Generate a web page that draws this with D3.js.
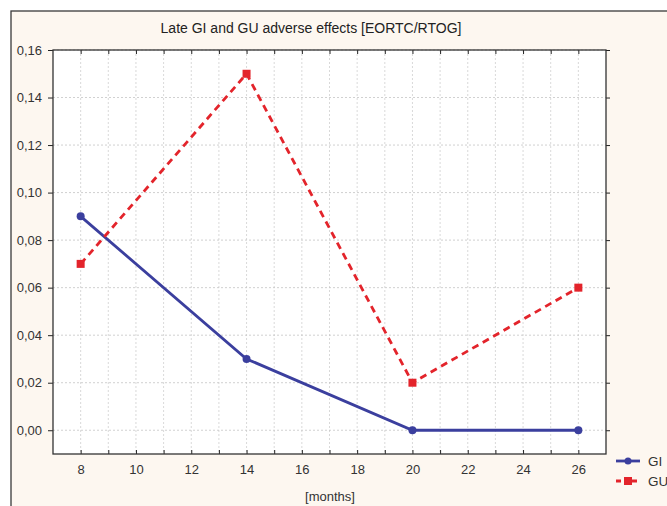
<!DOCTYPE html>
<html><head><meta charset="utf-8">
<script src="https://cdn.jsdelivr.net/npm/d3@7"></script>
<style>body{margin:0;background:#fff;}svg{display:block;font-family:"Liberation Sans",Arial,sans-serif;}</style>
</head><body><svg id="c" width="667" height="506"></svg>
<script>
const months = [8, 14, 20, 26];
const giValues = [0.09, 0.03, 0.00, 0.00];
const guValues = [0.07, 0.15, 0.02, 0.06];
const seriesNames = ["GI", "GU"];
const xTicks = [8, 10, 12, 14, 16, 18, 20, 22, 24, 26];
const yTicks = [0, 0.02, 0.04, 0.06, 0.08, 0.10, 0.12, 0.14, 0.16];
const title = "Late GI and GU adverse effects [EORTC/RTOG]";
const xTitle = "[months]";

const svg = d3.select("#c");
svg.append("rect").attr("x",0).attr("y",0).attr("width",667).attr("height",506).attr("fill","#fff");
svg.append("rect").attr("x",11).attr("y",11).attr("width",700).attr("height",520)
  .attr("fill","#fdf7f0").attr("stroke","#3a3a3a").attr("stroke-width",1.3);

const L=53,R=606,T=50,B=454;
const x = d3.scaleLinear().domain([7,27]).range([L,R]);
const y = d3.scaleLinear().domain([-0.01,0.16]).range([B,T]);

svg.append("rect").attr("x",L).attr("y",T).attr("width",R-L).attr("height",B-T).attr("fill","#fff");

const minorX = d3.range(8,27,1);
const g = svg.append("g");
g.selectAll(".vg").data(minorX).join("line")
  .attr("x1",d=>x(d)).attr("x2",d=>x(d)).attr("y1",T).attr("y2",B)
  .attr("stroke","#cfcfcf").attr("stroke-width",0.8).attr("stroke-dasharray","2,2");
g.selectAll(".hg").data(yTicks).join("line")
  .attr("x1",L).attr("x2",R).attr("y1",d=>y(d)).attr("y2",d=>y(d))
  .attr("stroke","#c4c4c4").attr("stroke-width",0.8).attr("stroke-dasharray","2,2");

// axes
const fmt = d => d3.format(".2f")(d).replace(".", ",");
const yAxis = d3.axisLeft(y).tickValues(yTicks).tickFormat(fmt).tickSize(5).tickPadding(6);
const ya = svg.append("g").attr("transform",`translate(${L},0)`).call(yAxis);
const yRight = d3.axisRight(y).tickValues(yTicks).tickFormat("").tickSize(4);
const yr = svg.append("g").attr("transform",`translate(${R},0)`).call(yRight);
const xAxis = d3.axisBottom(x).tickValues(xTicks).tickFormat(d3.format("d")).tickSize(0).tickPadding(11);
const xa = svg.append("g").attr("transform",`translate(0,${B})`).call(xAxis);
const xBottomTicks = d3.axisTop(x).tickValues(minorX).tickFormat("").tickSize(4);
const xb = svg.append("g").attr("transform",`translate(0,${B})`).call(xBottomTicks);
const xTopTicks = d3.axisBottom(x).tickValues(minorX).tickFormat("").tickSize(4);
const xt = svg.append("g").attr("transform",`translate(0,${T})`).call(xTopTicks);
[ya,yr,xa,xb,xt].forEach(a=>{
  a.select(".domain").remove();
  a.selectAll("line").attr("stroke","#222").attr("stroke-width",1);
  a.selectAll("text").attr("fill","#333").attr("font-size",13).attr("font-family",'"Liberation Sans",Arial,sans-serif');
});
svg.append("rect").attr("x",L).attr("y",T).attr("width",R-L).attr("height",B-T)
  .attr("fill","none").attr("stroke","#333").attr("stroke-width",1.3);

// title
svg.append("text").attr("x",311).attr("y",33).attr("text-anchor","middle")
  .attr("font-size",14).attr("fill","#222").text(title);
svg.append("text").attr("x",330).attr("y",501).attr("text-anchor","middle")
  .attr("font-size",13).attr("fill","#333").text(xTitle);

const colors = ["#3b3f9e","#e3242b"];
const data = [giValues, guValues];
const line = d3.line().x((d,i)=>x(months[i])).y(d=>y(d));
data.forEach((vals,k)=>{
  svg.append("path").datum(vals).attr("d",line).attr("fill","none")
    .attr("stroke",colors[k]).attr("stroke-width",2.8)
    .attr("stroke-dasharray",k===1?"7,5":null);
  if(k===0){
    svg.selectAll(".m0").data(vals).join("circle")
      .attr("cx",(d,i)=>x(months[i])).attr("cy",d=>y(d)).attr("r",4).attr("fill",colors[k]);
  } else {
    svg.selectAll(".m1").data(vals).join("rect")
      .attr("x",(d,i)=>x(months[i])-4).attr("y",d=>y(d)-4).attr("width",8).attr("height",8).attr("fill",colors[k]);
  }
});

// legend
seriesNames.forEach((n,k)=>{
  const ly = 461 + k*20;
  svg.append("line").attr("x1",616).attr("x2",640).attr("y1",ly).attr("y2",ly)
    .attr("stroke",colors[k]).attr("stroke-width",2.8).attr("stroke-dasharray",k===1?"5,3":null);
  if(k===0) svg.append("circle").attr("cx",628).attr("cy",ly).attr("r",3.5).attr("fill",colors[k]);
  else svg.append("rect").attr("x",624).attr("y",ly-4).attr("width",8).attr("height",8).attr("fill",colors[k]);
  svg.append("text").attr("x",648).attr("y",ly+5).attr("font-size",13.5).attr("fill","#333").text(n);
});
</script></body></html>
